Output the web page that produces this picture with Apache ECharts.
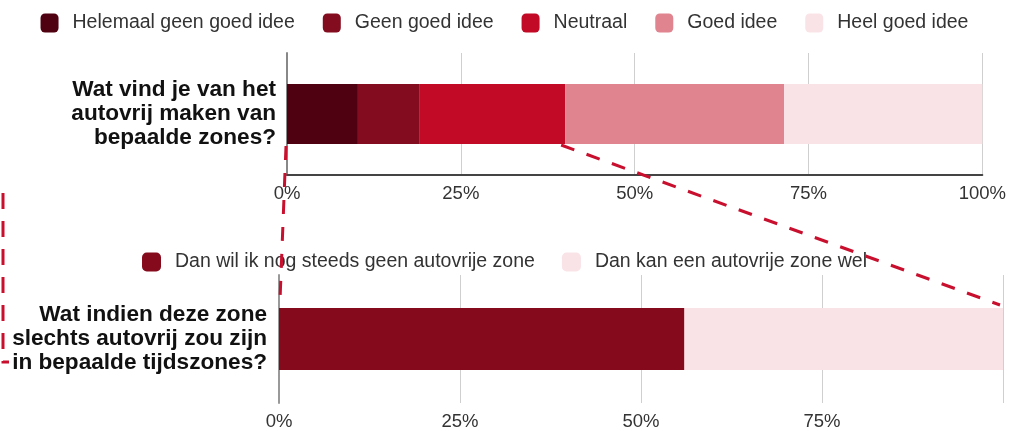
<!DOCTYPE html>
<html>
<head>
<meta charset="utf-8">
<script src="https://cdn.jsdelivr.net/npm/echarts@6/dist/echarts.min.js"></script>
<style>
html,body{margin:0;padding:0;background:#fff;}
#chart{width:1009px;height:431px;}
</style>
</head>
<body>
<div id="chart"></div>
<script>
// ---- data ----
const topCategories = ['Wat vind je van het\nautovrij maken van\nbepaalde zones?'];
const bottomCategories = ['Wat indien deze zone\nslechts autovrij zou zijn\nin bepaalde tijdszones?'];
const topSeriesNames = ['Helemaal geen goed idee', 'Geen goed idee', 'Neutraal', 'Goed idee', 'Heel goed idee'];
const helemaalGeenGoedIdee = [10.2];
const geenGoedIdee = [8.8];
const neutraal = [21.0];
const goedIdee = [31.5];
const heelGoedIdee = [28.5];
const bottomSeriesNames = ['Dan wil ik nog steeds geen autovrije zone', 'Dan kan een autovrije zone wel'];
const nogSteedsGeen = [56];
const kanWel = [44];
const xTickValues = [0, 25, 50, 75, 100];

// ---- styles ----
const topColors = ['#4f0011', '#840c1f', '#c20a27', '#e0848f', '#f9e3e7'];
const bottomColors = ['#850a1c', '#f9e3e7'];
const FONT = 'Liberation Sans, Arial, sans-serif';
const topValues = [helemaalGeenGoedIdee, geenGoedIdee, neutraal, goedIdee, heelGoedIdee];
const bottomValues = [nogSteedsGeen, kanWel];

const chart = echarts.init(document.getElementById('chart'), null, {renderer: 'canvas'});

const series = [];
topSeriesNames.forEach((n, i) => series.push({
  name: n, type: 'bar', stack: 'top', xAxisIndex: 0, yAxisIndex: 0,
  data: topValues[i], barWidth: 60, itemStyle: {color: topColors[i]}, emphasis: {disabled: true}
}));
bottomSeriesNames.forEach((n, i) => series.push({
  name: n, type: 'bar', stack: 'bottom', xAxisIndex: 1, yAxisIndex: 1,
  data: bottomValues[i], barWidth: 62, itemStyle: {color: bottomColors[i]}, emphasis: {disabled: true}
}));

const legendText = {fontFamily: FONT, fontSize: 19.5, color: '#333', padding: [0, 0, 0, 9]};
const yLabel = {fontFamily: FONT, fontSize: 22.6, fontWeight: 'bold', color: '#111', lineHeight: 24};
const xLabel = {fontFamily: FONT, fontSize: 18.5, color: '#333', margin: 9,
  formatter: v => xTickValues.includes(v) ? v + '%' : ''};

chart.setOption({
  animation: false,
  legend: [
    {data: topSeriesNames, left: 'center', top: 8, itemWidth: 18, itemHeight: 19, itemGap: 28,
     icon: 'roundRect', textStyle: legendText, selectedMode: false},
    {data: bottomSeriesNames, left: 'center', top: 247, itemWidth: 19, itemHeight: 19, itemGap: 27,
     icon: 'roundRect', textStyle: legendText, selectedMode: false}
  ],
  grid: [
    {left: 287, right: 26, top: 53, bottom: 256},
    {left: 279, right: 6, top: 275, bottom: 27}
  ],
  xAxis: [
    {type: 'value', gridIndex: 0, min: 0, max: 100, interval: 25,
     axisLine: {show: true, lineStyle: {color: '#444', width: 2}}, axisTick: {show: false},
     splitLine: {lineStyle: {color: '#cfcfcf', width: 1}}, axisLabel: xLabel},
    {type: 'value', gridIndex: 1, min: 0, max: 100, interval: 25,
     axisLine: {show: false}, axisTick: {show: false},
     splitLine: {lineStyle: {color: '#cfcfcf', width: 1}},
     axisLabel: Object.assign({}, xLabel, {showMaxLabel: false})}
  ],
  yAxis: [
    {type: 'category', gridIndex: 0, data: topCategories,
     axisLine: {show: true, lineStyle: {color: '#888', width: 2}}, axisTick: {show: false},
     axisLabel: Object.assign({margin: 11}, yLabel)},
    {type: 'category', gridIndex: 1, data: bottomCategories,
     axisLine: {show: true, lineStyle: {color: '#999', width: 2}}, axisTick: {show: false},
     axisLabel: Object.assign({margin: 12}, yLabel)}
  ],
  series: series
});

// ---- annotation (dashed zoom lines), anchored through the axes ----
const cumTop = topValues.slice(0, 3).reduce((s, a) => s + a[0], 0);
const pTop0 = chart.convertToPixel({xAxisIndex: 0, yAxisIndex: 0}, [0, 0]);
const pTopN = chart.convertToPixel({xAxisIndex: 0, yAxisIndex: 0}, [cumTop, 0]);
const pBot0 = chart.convertToPixel({xAxisIndex: 1, yAxisIndex: 1}, [0, 0]);
const pBot100 = chart.convertToPixel({xAxisIndex: 1, yAxisIndex: 1}, [100, 0]);
const dash = {stroke: '#c8102e', lineWidth: 3, lineDash: [14, 13]};
chart.setOption({
  graphic: [
    {type: 'line', silent: true, z: 100,
     shape: {x1: pTop0[0] - 1, y1: pTop0[1] + 32, x2: pBot0[0] + 1, y2: pBot0[1] - 39}, style: dash},
    {type: 'line', silent: true, z: 100,
     shape: {x1: pTopN[0] - 4, y1: pTopN[1] + 31, x2: pBot100[0] - 3, y2: pBot100[1] - 34}, style: dash},
    {type: 'polyline', silent: true, z: 100,
     shape: {points: [[3, 193], [3, 362], [9, 362]]}, style: Object.assign({}, dash, {lineDash: [16, 12], fill: null})}
  ]
});
</script>
</body>
</html>
